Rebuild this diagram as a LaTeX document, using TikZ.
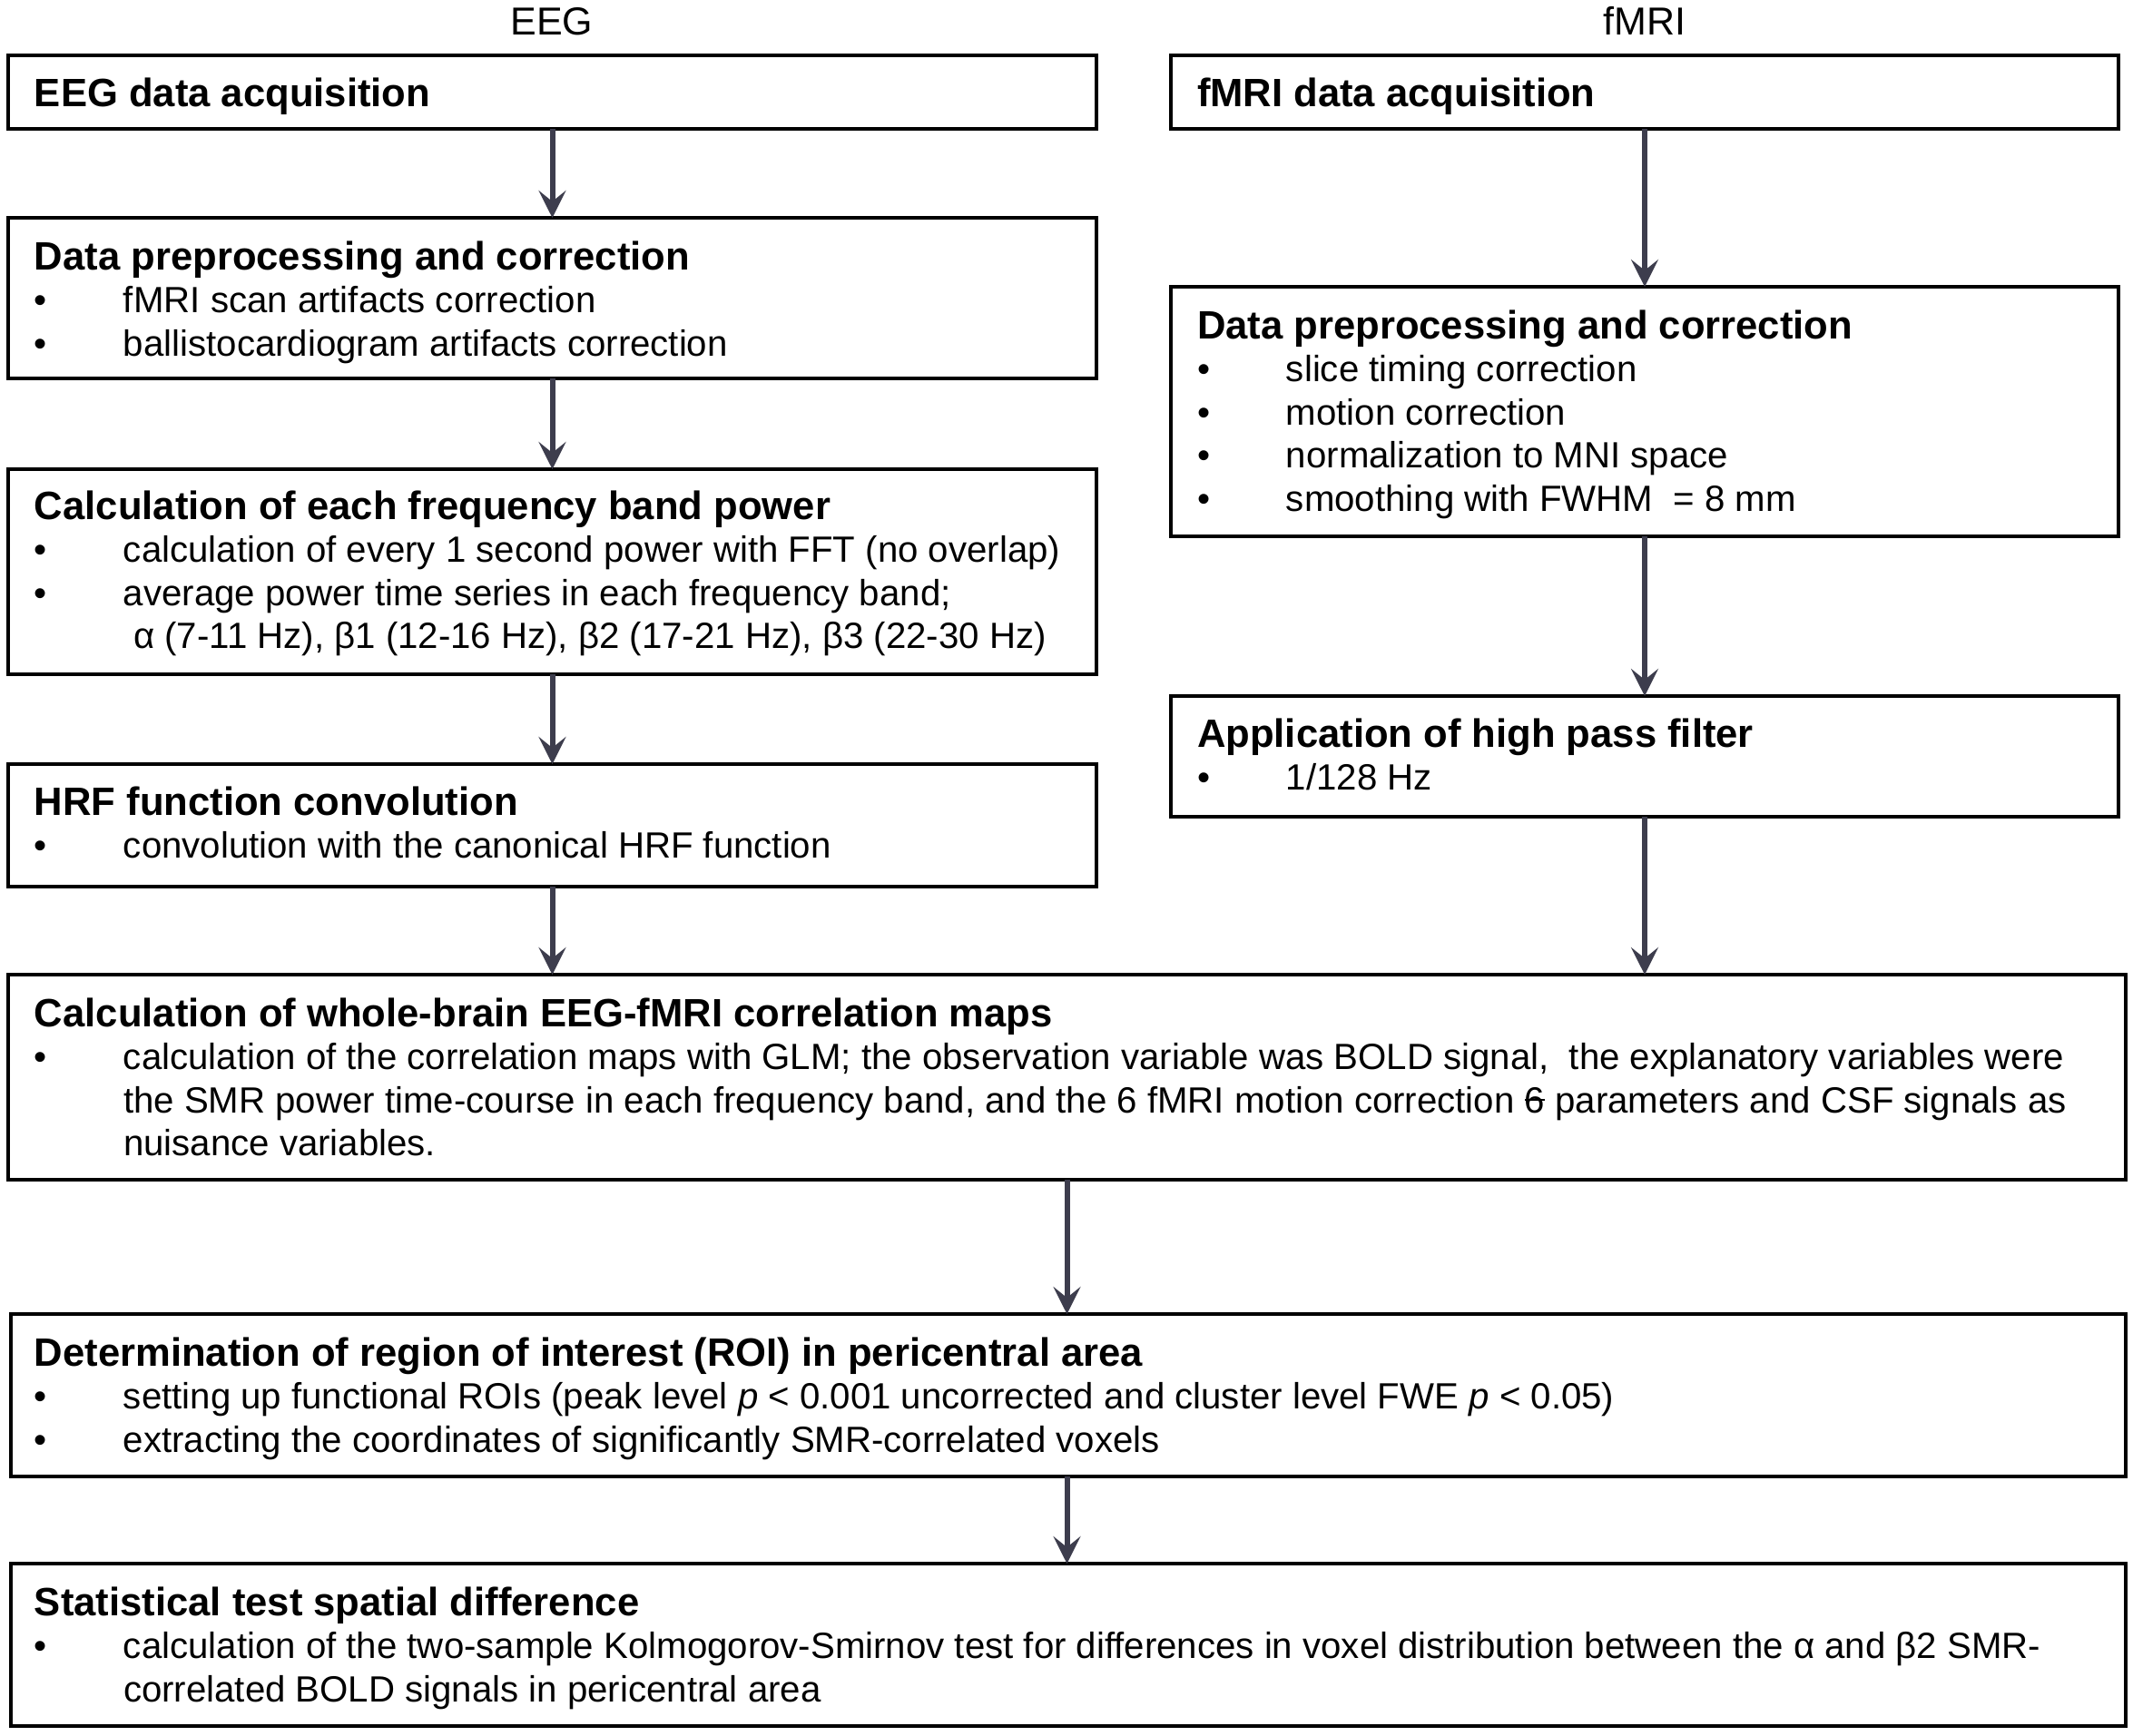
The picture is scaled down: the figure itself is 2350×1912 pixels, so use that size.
\documentclass[tikz,border=0pt]{standalone}
\usepackage{fontspec}
\setmainfont{Liberation Sans}
\usetikzlibrary{arrows.meta}
\definecolor{arrowcol}{HTML}{3D3D4D}
\newcommand\bodyfont{\fontsize{20.1}{23.8}\selectfont}
\newcommand\ttlfont{\fontsize{21.8}{23.8}\selectfont\bfseries}
\newcommand\bitem[1]{\hbox{\bodyfont\makebox[49pt][l]{•}#1}}
\newcommand\bcont[1]{\hbox{\bodyfont\hspace*{49pt}#1}}
\newcommand\btitle[1]{\hbox{\ttlfont #1}}
\newcommand\boxlines[1]{\vtop{\baselineskip=23.8pt\lineskiplimit=-100pt\lineskip=0pt #1}}
\newcommand\strikesix{\rlap{\rule[0.33em]{0.556em}{0.06em}}6}
\begin{document}
\begin{tikzpicture}[x=0.5pt,y=-0.5pt,
  stepbox/.style={draw=black,line width=2.2pt,rectangle,inner sep=0pt,outer sep=0pt,anchor=north west},
  txt/.style={anchor=base west,inner sep=0pt,outer sep=0pt,align=left},
  hdr/.style={anchor=base,inner sep=0pt,font=\fontsize{21.5}{24}\selectfont},
  arr/.style={draw=arrowcol,line width=3pt,-{Stealth[length=15pt,width=15pt,inset=6pt]}}]
\useasboundingbox (0,0) rectangle (2350,1912);

% column headers
\node[hdr] (hE) at (608,38) {EEG};
\node[hdr] (hF) at (1812,38) {fMRI};

% boxes
\node[stepbox,minimum width=599.5pt,minimum height=40.5pt] (b1) at (9,61) {};
\node[stepbox,minimum width=522pt,minimum height=40.5pt] (f1) at (1290,61) {};
\node[stepbox,minimum width=599.5pt,minimum height=88.5pt] (b2) at (9,240) {};
\node[stepbox,minimum width=522pt,minimum height=137.5pt] (f2) at (1290,316) {};
\node[stepbox,minimum width=599.5pt,minimum height=113pt] (b3) at (9,517) {};
\node[stepbox,minimum width=599.5pt,minimum height=67.5pt] (b4) at (9,842) {};
\node[stepbox,minimum width=522pt,minimum height=66.5pt] (f3) at (1290,767) {};
\node[stepbox,minimum width=1166.5pt,minimum height=113pt] (w) at (9,1074) {};
\node[stepbox,minimum width=1165pt,minimum height=89.5pt] (r) at (12,1448) {};
\node[stepbox,minimum width=1165pt,minimum height=89.5pt] (s) at (12,1723) {};

% texts
\node[txt] (tb1) at (38,117) {\boxlines{\btitle{EEG data acquisition}}};
\node[txt] (tf1) at (1319,117) {\boxlines{\btitle{fMRI data acquisition}}};
\node[txt] (tb2) at (38,297) {\boxlines{\btitle{Data preprocessing and correction}
  \bitem{fMRI scan artifacts correction}
  \bitem{ballistocardiogram artifacts correction}}};
\node[txt] (tf2) at (1319,373) {\boxlines{\btitle{Data preprocessing and correction}
  \bitem{slice timing correction}
  \bitem{motion correction}
  \bitem{normalization to MNI space}
  \bitem{smoothing with FWHM\ \ = 8 mm}}};
\node[txt] (tb3) at (38,572) {\boxlines{\btitle{Calculation of each frequency band power}
  \bitem{calculation of every 1 second power with FFT (no overlap)}
  \bitem{average power time series in each frequency band;}
  \bcont{\ α (7-11 Hz), β1 (12-16 Hz), β2 (17-21 Hz), β3 (22-30 Hz)}}};
\node[txt] (tb4) at (38,898) {\boxlines{\btitle{HRF function convolution}
  \bitem{convolution with the canonical HRF function}}};
\node[txt] (tf3) at (1319,823) {\boxlines{\btitle{Application of high pass filter}
  \bitem{1/128 Hz}}};
\node[txt] (tw) at (38,1131) {\boxlines{\btitle{Calculation of whole-brain EEG-fMRI correlation maps}
  \bitem{calculation of the correlation maps with GLM; the observation variable was BOLD signal,\ \ the explanatory variables were}
  \bcont{the SMR power time-course in each frequency band, and the 6 fMRI motion correction \strikesix{} parameters and CSF signals as}
  \bcont{nuisance variables.}}};
\node[txt] (tr) at (38,1505) {\boxlines{\btitle{Determination of region of interest (ROI) in pericentral area}
  \bitem{setting up functional ROIs (peak level \textit{p} < 0.001 uncorrected and cluster level FWE \textit{p} < 0.05)}
  \bitem{extracting the coordinates of significantly SMR-correlated voxels}}};
\node[txt] (ts) at (38,1780) {\boxlines{\btitle{Statistical test spatial difference}
  \bitem{calculation of the two-sample Kolmogorov-Smirnov test for differences in voxel distribution between the α and β2 SMR-}
  \bcont{correlated BOLD signals in pericentral area}}};

% arrows
\draw[arr] (b1.south) -- (b2.north);
\draw[arr] (b2.south) -- (b3.north);
\draw[arr] (b3.south) -- (b4.north);
\draw[arr] (b4.south) -- (b4.south |- w.north);
\draw[arr] (f1.south) -- (f2.north);
\draw[arr] (f2.south) -- (f3.north);
\draw[arr] (f3.south) -- (f3.south |- w.north);
\draw[arr] (w.south) -- (w.south |- r.north);
\draw[arr] (w.south |- r.south) -- (w.south |- s.north);
\end{tikzpicture}
\end{document}
